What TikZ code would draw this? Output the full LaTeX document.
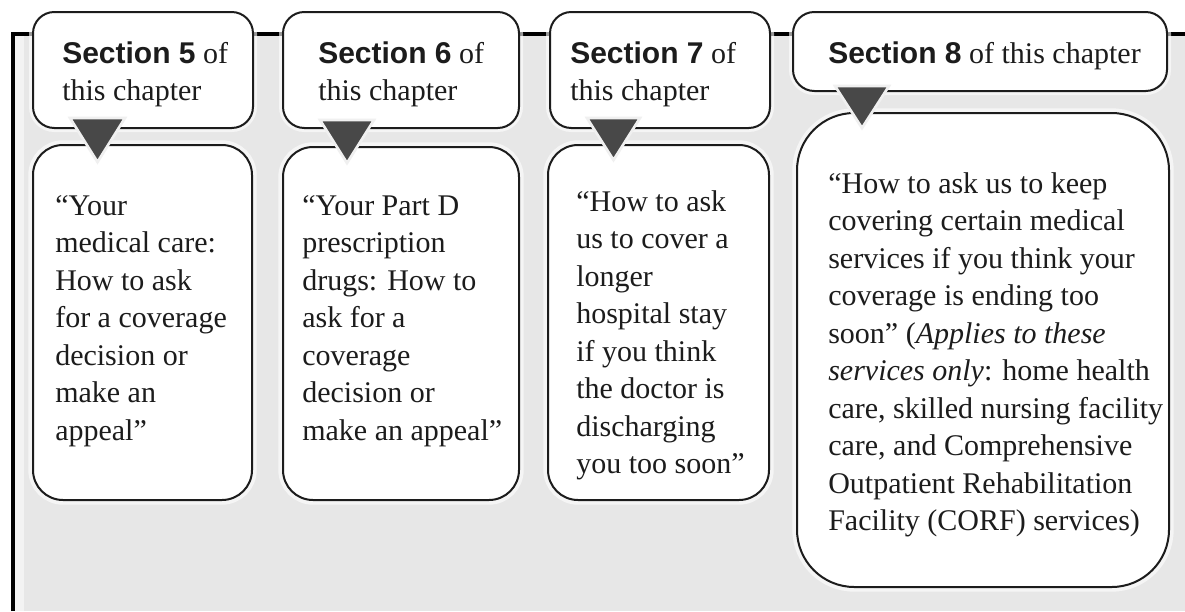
\documentclass[tikz,border=0pt]{standalone}
\usepackage{fontspec}
\setmainfont{Liberation Serif}
\newfontfamily\secfont{Liberation Sans}
\definecolor{panel}{RGB}{231,231,231}
\definecolor{ink}{RGB}{28,28,28}
\definecolor{tri}{RGB}{72,72,72}
\tikzset{
  tabbox/.style={draw=ink, line width=1.5pt, fill=white, rounded corners=16pt, inner sep=0pt,
    preaction={draw=white, line width=6pt, opacity=0.6}},
  cardbox/.style={draw=ink, line width=1.5pt, fill=white, rounded corners=22.5pt, inner sep=0pt,
    preaction={draw=white, line width=7pt, opacity=0.6}},
  pointer/.style={fill=tri, draw=white!94!black, line width=2pt, line join=miter},
  txt/.style={anchor=north west, inner sep=0pt, align=left, text=ink,
    font=\fontsize{22.5}{28.125}\selectfont},
  frame/.style={draw=black, line width=3pt, line join=miter},
}
\newcommand{\sect}[1]{{\secfont\bfseries Section #1}}
\begin{document}
\begin{tikzpicture}[x=0.75pt, y=-0.75pt]
\useasboundingbox (0,0) rectangle (1185,611);
\fill[white] (0,0) rectangle (1185,611);
% panel
\fill[panel] (12,34) rectangle (1185,611);
\fill[white, opacity=0.5] (14,36) rectangle (24,611);
\draw[frame] (12.5,611) -- (12.5,34) -- (1185,34);

% cards
\node[cardbox, minimum width=164.25pt, minimum height=266.25pt] (card1) at (142.5,322.5) {};
\node[cardbox, minimum width=177pt, minimum height=264.75pt] (card2) at (401,323.5) {};
\node[cardbox, minimum width=165.75pt, minimum height=266.25pt] (card3) at (658.5,322.5) {};
\node[cardbox, rounded corners=43pt, minimum width=279pt, minimum height=355.5pt] (card4) at (983,350) {};

% tabs
\node[tabbox, minimum width=165pt, minimum height=87pt] (tab1) at (143,70) {};
\node[tabbox, minimum width=177pt, minimum height=87pt] (tab2) at (401,70) {};
\node[tabbox, minimum width=165pt, minimum height=87pt] (tab3) at (660,70) {};
\node[tabbox, minimum width=280.5pt, minimum height=59.25pt] (tab4) at (980,51.5) {};

% pointers
\filldraw[pointer] (70,118) -- (125,118) -- (97.5,162) -- cycle;
\filldraw[pointer] (320,120) -- (374,120) -- (347,163) -- cycle;
\filldraw[pointer] (587,118) -- (640,118) -- (613.5,160) -- cycle;
\filldraw[pointer] (835,86) -- (889,86) -- (862,128) -- cycle;

% tab texts
\node[txt] (tab1t) at (62,36.75) {\strut\sect{5} of\\this chapter};
\node[txt] (tab2t) at (318,36.75) {\strut\sect{6} of\\this chapter};
\node[txt] (tab3t) at (570,36.75) {\strut\sect{7} of\\this chapter};
\node[txt] (tab4t) at (828,36.75) {\strut\sect{8} of this chapter};

% card texts
\node[txt] (card1t) at (55,188.75) {\strut“Your\\medical care:\\How to ask\\for a coverage\\decision or\\make an\\appeal”};
\node[txt] (card2t) at (302,188.75) {\strut“Your Part D\\prescription\\drugs: How to\\ask for a\\coverage\\decision or\\make an appeal”};
\node[txt] (card3t) at (576,184.75) {\strut“How to ask\\us to cover a\\longer\\hospital stay\\if you think\\the doctor is\\discharging\\you too soon”};
\node[txt] (card4t) at (828,166.75) {\strut“How to ask us to keep\\covering certain medical\\services if you think your\\coverage is ending too\\soon” (\textit{Applies to these}\\\textit{services only}: home health\\care, skilled nursing facility\\care, and Comprehensive\\Outpatient Rehabilitation\\Facility (CORF) services)};
\end{tikzpicture}
\end{document}
